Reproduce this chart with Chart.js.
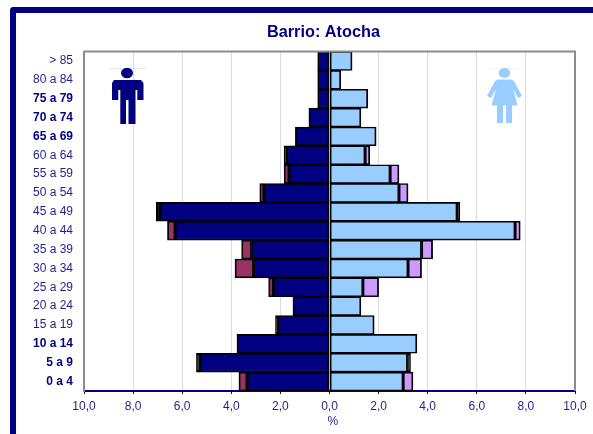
<!DOCTYPE html>
<html>
<head>
<meta charset="utf-8">
<title>Barrio: Atocha</title>
<script src="https://cdn.jsdelivr.net/npm/chart.js@4"></script>
<style>
  html, body { margin: 0; padding: 0; background: #fff; overflow: hidden; }
  #wrap { position: relative; width: 593px; height: 434px; overflow: hidden; }
  #frame {
    position: absolute; left: 10px; top: 7px; width: 700px; height: 600px;
    border-left: 6px solid #000080; border-top: 6px solid #000080;
    border-top-left-radius: 4px;
  }
  canvas { position: absolute; left: 0; top: 0; }
</style>
</head>
<body>
<div id="wrap">
  <div id="frame"></div>
  <canvas id="chart" width="593" height="434"></canvas>
</div>
<script>
const ageGroups = ['> 85', '80 a 84', '75 a 79', '70 a 74', '65 a 69', '60 a 64', '55 a 59', '50 a 54', '45 a 49',
  '40 a 44', '35 a 39', '30 a 34', '25 a 29', '20 a 24', '15 a 19', '10 a 14', '5 a 9', '0 a 4'];
const boldGroups = ['75 a 79', '70 a 74', '65 a 69', '10 a 14', '5 a 9', '0 a 4'];

// percentages, men are negative
const menMain = [-0.48, -0.48, -0.48, -0.84, -1.39, -1.74, -1.65, -2.67, -6.9,
  -6.29, -3.18, -3.09, -2.29, -1.49, -2.1, -3.77, -5.28, -3.36];
const menOther = [null, null, null, null, null, -0.11, -0.2, -0.17, -0.16,
  -0.31, -0.4, -0.76, -0.19, null, -0.1, null, -0.14, -0.33];
const womenMain = [0.92, 0.46, 1.56, 1.28, 1.9, 1.45, 2.47, 2.83, 5.2,
  7.56, 3.75, 3.2, 1.36, 1.28, 1.82, 3.56, 3.18, 3.0];
const womenOther = [null, null, null, null, null, 0.19, 0.36, 0.37, 0.11,
  0.21, 0.45, 0.55, 0.64, null, null, null, 0.12, 0.4];

const NAVY = '#000080';
const TEXT = '#1f1f8c';

function barSet(values, color) {
  return {
    data: values,
    // very thin slices are all border in the original
    backgroundColor: ctx => Math.abs(ctx.raw) < 0.165 ? '#000' : color,
    borderColor: '#000',
    borderWidth: { top: 1.6, bottom: 1.6, left: 1.8, right: 1.8 },
    borderSkipped: false,
    barPercentage: 1,
    categoryPercentage: 1
  };
}

// plot frame on top and right, and the two little figures
const decorations = {
  id: 'decorations',
  afterLayout(chart) {
    // the title sits a bit right of the canvas centre
    chart.titleBlock.left = 72;
  },
  afterDraw(chart) {
    const { ctx, chartArea: a } = chart;
    ctx.save();
    ctx.strokeStyle = '#8c8c8c';
    ctx.lineWidth = 2;
    ctx.beginPath();
    ctx.moveTo(a.left, a.top);
    ctx.lineTo(a.right, a.top);
    ctx.lineTo(a.right, a.bottom);
    ctx.stroke();
    ctx.restore();
  },
  beforeDatasetsDraw(chart) {
    const { ctx } = chart;
    ctx.save();
    drawMan(ctx);
    drawWoman(ctx);
    ctx.restore();
  }
};

function poly(ctx, pts) {
  ctx.beginPath();
  pts.forEach((p, i) => i ? ctx.lineTo(p[0], p[1]) : ctx.moveTo(p[0], p[1]));
  ctx.closePath();
  ctx.fill();
}

function drawMan(ctx) {
  ctx.fillStyle = '#d8d8e0';
  ctx.fillRect(109, 68, 37, 0.6);
  ctx.fillStyle = NAVY;
  ctx.beginPath();
  ctx.ellipse(127, 73, 6, 5.2, 0, 0, Math.PI * 2);
  ctx.fill();
  poly(ctx, [[114, 80], [141, 80], [143.5, 83], [143.5, 100], [137.3, 100], [137.3, 90], [135.5, 90], [135.5, 124],
    [128.5, 124], [128.5, 100], [126, 100], [126, 124], [120.3, 124], [120.3, 90], [118.3, 90], [118.3, 100], [112, 100], [112, 83]]);
}

function drawWoman(ctx) {
  ctx.fillStyle = '#e4eef8';
  ctx.fillRect(487, 68, 36, 0.6);
  ctx.fillStyle = '#99ccff';
  ctx.beginPath();
  ctx.ellipse(504.5, 73, 5.8, 5, 0, 0, Math.PI * 2);
  ctx.fill();
  poly(ctx, [[498, 79.5], [511, 79.5], [514, 81], [522, 96], [518, 98], [513, 89], [517.5, 105.5], [512, 105.5],
    [512, 123], [506, 123], [506, 105.5], [503, 105.5], [503, 123], [497, 123], [497, 105.5], [491.5, 105.5],
    [496, 89], [491, 98], [487, 96], [495, 81]]);
}

new Chart(document.getElementById('chart'), {
  type: 'bar',
  data: {
    labels: ageGroups,
    datasets: [
      barSet(menMain, NAVY),
      barSet(menOther, '#993366'),
      barSet(womenMain, '#99ccff'),
      barSet(womenOther, '#cc99ff')
    ]
  },
  plugins: [decorations],
  options: {
    indexAxis: 'y',
    responsive: false,
    animation: false,
    devicePixelRatio: 1,
    layout: { padding: { left: 0, right: 18, top: 0, bottom: 0 } },
    plugins: {
      legend: { display: false },
      tooltip: { enabled: false },
      title: {
        display: true,
        text: 'Barrio: Atocha',
        color: NAVY,
        font: { family: 'Liberation Sans', size: 16.3, weight: 'bold' },
        padding: { top: 23, bottom: 9 }
      }
    },
    scales: {
      x: {
        stacked: true,
        min: -10,
        max: 10,
        afterFit: s => { s.height = 43; },
        grid: { color: '#bcbcbc', tickColor: NAVY, tickLength: 3, lineWidth: 1 },
        border: { color: NAVY, width: 2, dash: [1, 1] },
        ticks: {
          stepSize: 2,
          padding: 5,
          maxRotation: 0,
          color: TEXT,
          font: { family: 'Liberation Sans', size: 12 },
          callback: v => Math.abs(v).toFixed(1).replace('.', ',')
        },
        title: {
          display: true,
          text: '  %',
          color: TEXT,
          font: { family: 'Liberation Sans', size: 12 },
          padding: { top: 0, bottom: 5 }
        }
      },
      y: {
        stacked: true,
        afterFit: s => { s.width = 84; },
        grid: { display: false },
        border: { color: '#8c8c8c', width: 2 },
        ticks: {
          autoSkip: false,
          padding: 3,
          color: ctx => boldGroups.includes(ageGroups[ctx.index]) ? NAVY : TEXT,
          font: ctx => ({
            family: 'Liberation Sans',
            size: 12,
            weight: boldGroups.includes(ageGroups[ctx.index]) ? 'bold' : 'normal'
          })
        }
      }
    }
  }
});
</script>
</body>
</html>
